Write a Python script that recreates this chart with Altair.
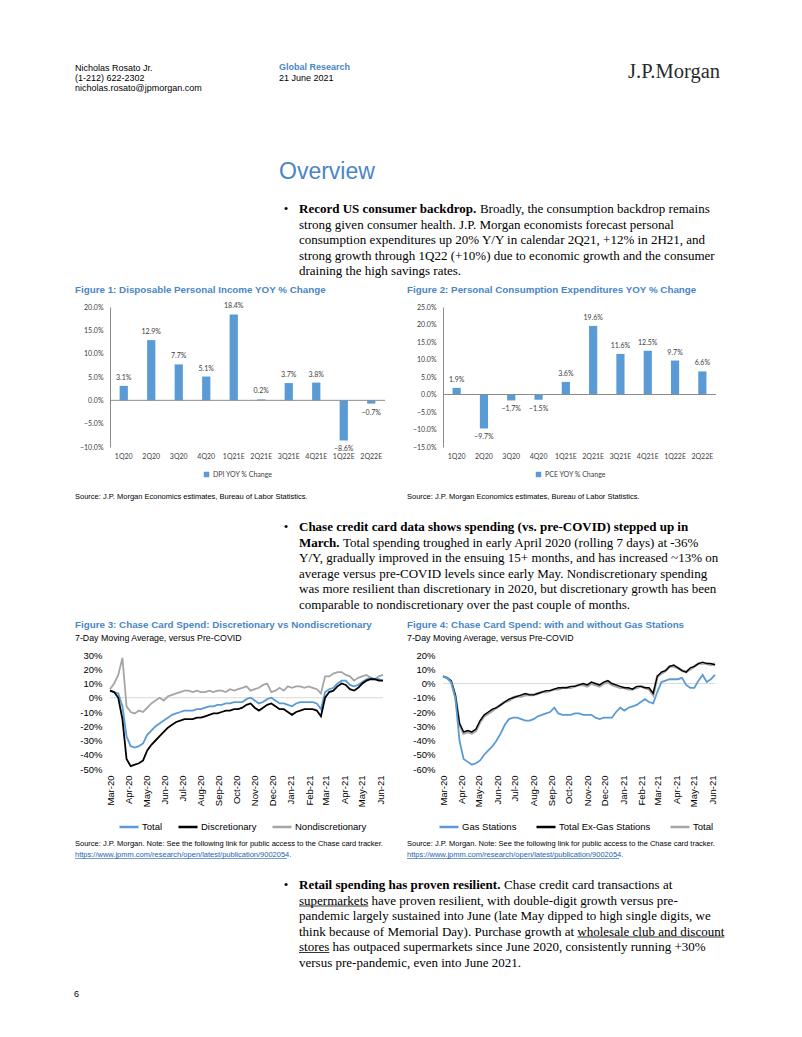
import altair as alt
import pandas as pd

# ---------------- data ----------------
quarters = ["1Q20", "2Q20", "3Q20", "4Q20", "1Q21E", "2Q21E", "3Q21E", "4Q21E", "1Q22E", "2Q22E"]
dpi_yoy = [3.1, 12.9, 7.7, 5.1, 18.4, 0.2, 3.7, 3.8, -8.6, -0.7]
pce_yoy = [1.9, -9.7, -1.7, -1.5, 3.6, 19.6, 11.6, 12.5, 9.7, 6.6]

week_dates = pd.date_range("2020-03-01", periods=67, freq="7D").strftime("%Y-%m-%d").tolist()

fig3_total = [5, 4, 3, -6, -27, -34, -35, -34, -32, -26,
              -23, -20, -18, -16, -14, -12, -11, -10, -9, -9,
              -9, -8, -8, -7, -6, -6, -5, -5, -4, -4,
              -3, -3, -3, -1, 0, -2, -4, -3, -1, 0,
              -2, -4, -4, -5, -6, -4, -3, -3, -3, -3,
              -4, -8, 4, 6, 7, 10, 12, 12, 9, 8,
              9, 11, 13, 14, 13, 13, 12]
fig3_disc = [5, 4, 0, -15, -43, -48, -47, -46, -44, -37,
             -33, -30, -27, -24, -21, -19, -17, -16, -15, -15,
             -15, -14, -14, -13, -12, -11, -11, -10, -9, -9,
             -8, -8, -7, -5, -4, -7, -9, -7, -5, -4,
             -6, -8, -8, -10, -12, -10, -9, -8, -8, -8,
             -9, -13, 0, 4, 5, 8, 10, 9, 6, 5,
             7, 10, 12, 13, 13, 12, 12]
fig3_nondisc = [6, 10, 16, 28, -6, -10, -11, -9, -10, -7,
                -4, -2, 0, -2, 1, 2, 3, 4, 5, 5,
                4, 5, 4, 4, 5, 4, 5, 5, 4, 6,
                5, 6, 7, 8, 5, 6, 7, 9, 10, 4,
                5, 7, 5, 8, 7, 8, 8, 7, 8, 7,
                6, 3, 15, 15, 17, 18, 18, 16, 15, 12,
                14, 15, 16, 14, 13, 15, 16]

fig4_gas = [5, 4, 1, -10, -40, -53, -55, -57, -56, -54,
            -50, -47, -44, -40, -35, -29, -25, -24, -24, -25,
            -26, -26, -25, -23, -22, -21, -20, -17, -21, -22,
            -22, -22, -21, -21, -22, -22, -22, -24, -25, -24,
            -24, -24, -20, -17, -19, -17, -16, -15, -13, -11,
            -13, -14, -6, 1, 2, 3, 3, 3, 4, -1,
            -3, -3, 2, 6, 1, 3, 6]
fig4_exgas = [5, 4, 2, -8, -28, -34, -33, -34, -32, -26,
              -22, -20, -18, -17, -15, -13, -11, -10, -9, -8,
              -7, -8, -8, -7, -6, -5, -5, -4, -3, -3,
              -3, -2, -2, -1, 0, -1, 1, 0, -1, 1,
              2, 0, -1, -2, -3, -3, -4, -2, -2, -3,
              -3, -7, 5, 8, 9, 12, 13, 11, 9, 8,
              11, 12, 14, 15, 14, 14, 13]
fig4_total = [5, 4, 1, -9, -29, -35, -34, -35, -33, -27,
              -23, -21, -19, -17, -15, -13, -12, -10, -9, -9,
              -8, -8, -8, -7, -6, -6, -5, -4, -4, -3,
              -3, -3, -2, -1, -1, -2, 0, -1, -2, 0,
              1, -1, -2, -3, -3, -4, -4, -3, -2, -3,
              -4, -8, 5, 7, 9, 12, 12, 11, 9, 8,
              10, 12, 14, 14, 14, 13, 14]

fig3_series = ["Total", "Discretionary", "Nondiscretionary"]
fig4_series = ["Gas Stations", "Total Ex-Gas Stations", "Total"]

header_left = ["Nicholas Rosato Jr.", "(1-212) 622-2302", "nicholas.rosato@jpmorgan.com"]
para1 = ["strong given consumer health. J.P. Morgan economists forecast personal",
         "consumption expenditures up 20% Y/Y in calendar 2Q21, +12% in 2H21, and",
         "strong growth through 1Q22 (+10%) due to economic growth and the consumer",
         "draining the high savings rates."]
para2 = ["Y/Y, gradually improved in the ensuing 15+ months, and has increased ~13% on",
         "average versus pre-COVID levels since early May. Nondiscretionary spending",
         "was more resilient than discretionary in 2020, but discretionary growth has been",
         "comparable to nondiscretionary over the past couple of months."]
para3 = ["supermarkets have proven resilient, with double-digit growth versus pre-",
         "pandemic largely sustained into June (late May dipped to high single digits, we",
         "think because of Memorial Day). Purchase growth at wholesale club and discount",
         "stores has outpaced supermarkets since June 2020, consistently running +30%",
         "versus pre-pandemic, even into June 2021."]
src12 = "Source: J.P. Morgan Economics estimates, Bureau of Labor Statistics."
src34 = "Source: J.P. Morgan. Note: See the following link for public access to the Chase card tracker."
link = "https://www.jpmm.com/research/open/latest/publication/9002054."

# ---------------- styles ----------------
SERIF = "Liberation Serif"
SANS = "Liberation Sans"
CAL = "Lato"
TBLUE = "#4A86C5"
BBLUE = "#5B9BD5"
DGREY = "#404040"
LINK = "#1F5FB5"

one = pd.DataFrame({"k": [0]})


def txt(s, xp, yp, top, size=13, font=SERIF, weight="normal", color="#000000", align="left"):
    return alt.Chart(one).mark_text(
        text=s, font=font, fontSize=size, fontWeight=weight, color=color,
        align=align, baseline="middle"
    ).encode(x=alt.value(xp - 8), y=alt.value(yp - top))


def uline(x1p, x2p, yp, top, color="#000000", w=0.8):
    return alt.Chart(one).mark_rule(color=color, strokeWidth=w).encode(
        x=alt.value(x1p - 8), x2=alt.value(x2p - 8), y=alt.value(yp - top))


def spacer(w, h):
    return alt.Chart(one).mark_point(opacity=0, size=1).encode(
        x=alt.value(w / 2), y=alt.value(h / 2)).properties(width=w, height=h)


# column widths of the page grid: left margin, figure, gap, figure
CW = [102, 275, 58, 273]

# ---------------- row A: header, overview, para 1, fig titles ----------------
TA = 8
HA = 299
A = [
    txt(header_left[0], 75, 68, TA, 9, SANS),
    txt(header_left[1], 75, 78, TA, 9, SANS),
    txt(header_left[2], 75, 88, TA, 9, SANS),
    txt("Global Research", 279, 67, TA, 9, SANS, "bold", TBLUE),
    txt("21 June 2021", 279, 78, TA, 9, SANS),
    txt("J.P.Morgan", 720, 72, TA, 20.5, SERIF, "normal", "#2B2B2B", "right"),
    txt("Overview", 279, 172, TA, 23, SANS, "normal", TBLUE),
    txt("\u2022", 286, 209, TA, 13, SERIF, "normal", "#000000", "center"),
    txt("Record US consumer backdrop.", 299, 209, TA, 13, SERIF, "bold"),
    txt("Broadly, the consumption backdrop remains", 479.9, 209, TA),
]
for i, line in enumerate(para1):
    A.append(txt(line, 299, 224.5 + 15.5 * i, TA))
A.append(txt("Figure 1: Disposable Personal Income YOY % Change", 75, 290, TA, 9.8, SANS, "bold", TBLUE))
A.append(txt("Figure 2: Personal Consumption Expenditures YOY % Change", 407, 290, TA, 9.8, SANS, "bold", TBLUE))
textA = alt.layer(*A).properties(width=CW[0], height=HA)


# ---------------- bar figures ----------------
def bar_chart(values, field, label, ymin, ymax, width, legend_x):
    df = pd.DataFrame({"q": quarters, "v": values, field: label})
    yvals = list(range(ymin, ymax + 1, 5))
    x = alt.X("q:N", sort=quarters,
              scale=alt.Scale(paddingInner=0.7, paddingOuter=0.35),
              axis=alt.Axis(title=None, labelAngle=0, domain=False, ticks=False,
                            labelPadding=5, labelFont=CAL, labelFontSize=7, labelColor=DGREY,
                            labelOverlap=False))
    y = alt.Y("v:Q", scale=alt.Scale(domain=[ymin, ymax], nice=False, zero=False),
              axis=alt.Axis(title=None, values=yvals, tickCount=len(yvals),
                            labelExpr="format(datum.value, '.1f') + '%'",
                            domain=True, domainColor="#8C8C8C", domainWidth=1,
                            ticks=False, grid=False, labelPadding=7, labelOverlap=False,
                            labelFont=CAL, labelFontSize=7, labelColor=DGREY))
    base = alt.Chart(df)
    bars = base.mark_bar().encode(
        x=x, y=y,
        color=alt.Color(f"{field}:N", scale=alt.Scale(range=[BBLUE]),
                        legend=alt.Legend(orient="none", legendX=legend_x, legendY=164,
                                          title=None, symbolType="square", symbolSize=30,
                                          symbolStrokeWidth=0, labelFont=CAL, labelFontSize=7,
                                          labelColor=DGREY, padding=0, labelOffset=3)))
    zero = alt.Chart(one).mark_rule(color="#8C8C8C", strokeWidth=1).encode(y=alt.datum(0))
    lab = base.transform_calculate(lab="format(datum.v, '.1f') + '%'")
    pos = lab.transform_filter("datum.v >= 0").mark_text(
        dy=-8, font=CAL, fontSize=7, color=DGREY, baseline="middle").encode(x=x, y=y, text="lab:N")
    neg = lab.transform_filter("datum.v < 0").mark_text(
        dy=9, font=CAL, fontSize=7, color=DGREY, baseline="middle").encode(x=x, y=y, text="lab:N")
    return alt.layer(bars, zero, pos, neg).properties(width=width, height=140)


fig1 = bar_chart(dpi_yoy, "dpi", "DPI YOY % Change", -10, 20, 275, 93)
fig2 = bar_chart(pce_yoy, "pce", "PCE YOY % Change", -15, 25, 273, 92)

# ---------------- row C: sources, para 2, fig 3/4 titles ----------------
TC = 447
HC = 207.5
C = [
    txt(src12, 75, 497, TC, 7.5, SANS),
    txt(src12, 407, 497, TC, 7.5, SANS),
    txt("\u2022", 286, 527, TC, 13, SERIF, "normal", "#000000", "center"),
    txt("Chase credit card data shows spending (vs. pre-COVID) stepped up in", 299, 527, TC, 13, SERIF, "bold"),
    txt("March.", 299, 542.5, TC, 13, SERIF, "bold"),
    txt("Total spending troughed in early April 2020 (rolling 7 days) at -36%", 343, 542.5, TC),
]
for i, line in enumerate(para2):
    C.append(txt(line, 299, 558 + 15.5 * i, TC))
C += [
    txt("Figure 3: Chase Card Spend: Discretionary vs Nondiscretionary", 75, 624.5, TC, 9.8, SANS, "bold", TBLUE),
    txt("7-Day Moving Average, versus Pre-COVID", 75, 638, TC, 8.8, SANS),
    txt("Figure 4: Chase Card Spend: with and without Gas Stations", 407, 624.5, TC, 9.8, SANS, "bold", TBLUE),
    txt("7-Day Moving Average, versus Pre-COVID", 407, 638, TC, 8.8, SANS),
]
textC = alt.layer(*C).properties(width=CW[0], height=HC)


# ---------------- line figures ----------------
def line_chart(names, vals, colors, order, ymin, ymax, width, legend_x, colpad):
    rows = []
    for n, vs in zip(names, vals):
        for d, v in zip(week_dates, vs):
            rows.append({"date": d, "series": n, "v": v})
    df = pd.DataFrame(rows)
    yvals = list(range(ymin, ymax + 1, 10))
    x = alt.X("date:T",
              scale=alt.Scale(type="utc", domain=[
                  alt.DateTime(year=2020, month=3, date=1, utc=True),
                  alt.DateTime(year=2021, month=6, date=6, utc=True)]),
              axis=alt.Axis(title=None, labelExpr="utcFormat(datum.value, '%b-%y')",
                            labelAngle=270, tickCount={"interval": "month", "step": 1},
                            domain=False, ticks=False, grid=False, labelPadding=6,
                            labelFont=SANS, labelFontSize=9.5, labelColor="#000000",
                            labelOverlap=False, labelFlush=False))
    y = alt.Y("v:Q", scale=alt.Scale(domain=[ymin, ymax], nice=False, zero=False),
              axis=alt.Axis(title=None, values=yvals, tickCount=len(yvals),
                            labelExpr="datum.value + '%'", domain=False, ticks=False,
                            grid=False, labelPadding=8, labelFont=SANS, labelFontSize=9.5,
                            labelColor="#000000", labelOverlap=False))
    color = alt.Color("series:N", scale=alt.Scale(domain=names, range=colors),
                      legend=alt.Legend(orient="none", direction="horizontal",
                                        legendX=legend_x, legendY=161, title=None,
                                        symbolType="stroke", symbolSize=361,
                                        symbolStrokeWidth=2.5, labelFont=SANS,
                                        labelFontSize=9.5, labelColor="#000000",
                                        columnPadding=colpad, labelOffset=2, padding=0))
    zero = alt.Chart(one).mark_rule(color="#D9D9D9", strokeWidth=1).encode(y=alt.datum(0))
    layers = [zero]
    base = alt.Chart(df)
    for n, w in order:
        layers.append(base.transform_filter(alt.datum.series == n)
                      .mark_line(strokeWidth=w).encode(x=x, y=y, color=color))
    return alt.layer(*layers).properties(width=width, height=114)


fig3 = line_chart(fig3_series, [fig3_total, fig3_disc, fig3_nondisc],
                  [BBLUE, "#000000", "#A5A5A5"],
                  [("Nondiscretionary", 1.8), ("Total", 1.8), ("Discretionary", 1.8)],
                  -50, 30, 273, 8, 10)
fig4 = line_chart(fig4_series, [fig4_gas, fig4_exgas, fig4_total],
                  [BBLUE, "#000000", "#A5A5A5"],
                  [("Total", 2.6), ("Total Ex-Gas Stations", 1.4), ("Gas Stations", 1.8)],
                  -60, 20, 272, -5, 14)

# ---------------- row E: sources, para 3, page number ----------------
TE = 768.5
HE = 260.5
E = [
    txt(src34, 75, 843, TE, 7.5, SANS),
    txt(link, 75, 854, TE, 7.5, SANS, "normal", LINK),
    uline(75, 287, 858, TE, LINK, 0.6),
    txt(src34, 407, 843, TE, 7.5, SANS),
    txt(link, 407, 854, TE, 7.5, SANS, "normal", LINK),
    uline(407, 619, 858, TE, LINK, 0.6),
    txt("\u2022", 286, 884.5, TE, 13, SERIF, "normal", "#000000", "center"),
    txt("Retail spending has proven resilient.", 299, 884.5, TE, 13, SERIF, "bold"),
    txt("Chase credit card transactions at", 504.1, 884.5, TE),
]
for i, line in enumerate(para3):
    E.append(txt(line, 299, 900 + 15.5 * i, TE))
E += [
    uline(299, 368.3, 905.5, TE),
    uline(577.4, 724.4, 936.5, TE),
    uline(299, 329.3, 952, TE),
    txt("6", 74, 993, TE, 9, SANS),
]
textE = alt.layer(*E).properties(width=CW[0], height=HE)

cells = [
    textA, spacer(CW[1], HA), spacer(CW[2], HA), spacer(CW[3], HA),
    spacer(CW[0], 140), fig1, spacer(CW[2], 140), fig2,
    textC, spacer(CW[1], HC), spacer(CW[2], HC), spacer(CW[3], HC),
    spacer(CW[0], 114), fig3, spacer(CW[2], 114), fig4,
    textE, spacer(CW[1], HE), spacer(CW[2], HE), spacer(CW[3], HE),
]

chart = alt.concat(*cells, columns=4, spacing=0, bounds="flush", align="each",
                   padding=0).resolve_scale(color="independent").configure_view(strokeWidth=0)

chart.save("out.html", embed_options={"renderer": "svg", "actions": False})
